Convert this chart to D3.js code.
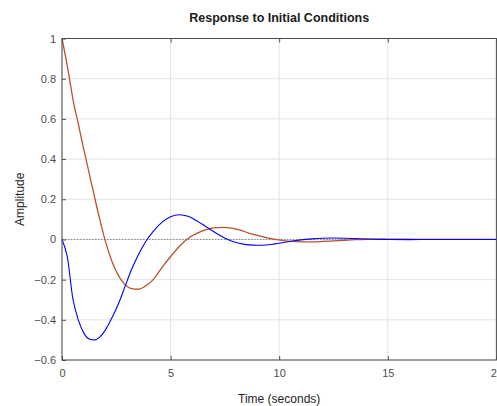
<!DOCTYPE html>
<html>
<head>
<meta charset="utf-8">
<script src="https://cdn.jsdelivr.net/npm/d3@7"></script>
<style>
  html, body { margin: 0; padding: 0; background: #fff; }
  svg { display: block; font-family: "Liberation Sans", Arial, sans-serif; }
</style>
</head>
<body>
<div id="chart"></div>
<script>
// time grid (seconds)
const times = [0, 0.25, 0.5, 0.75, 1.0, 1.25, 1.5, 1.75, 2.0, 2.3, 2.6, 2.9, 3.2, 3.5, 3.8,
  4.2, 4.6, 5.0, 5.4, 5.8, 6.2, 6.6, 7.0, 7.4, 7.8, 8.2, 8.6, 9.0, 9.4, 9.8, 10.2, 10.6,
  11.0, 11.5, 12.0, 12.5, 13.0, 13.5, 14.0, 15.0, 16.0, 17.0, 18.0, 19.0, 20.0];

const blueValues = [0, -0.09, -0.295, -0.40, -0.465, -0.495, -0.50, -0.485, -0.45, -0.39,
  -0.32, -0.235, -0.15, -0.08, -0.02, 0.04, 0.085, 0.113, 0.123, 0.115, 0.093, 0.066,
  0.038, 0.012, -0.008, -0.02, -0.027, -0.029, -0.028, -0.022, -0.015, -0.008, -0.002,
  0.003, 0.006, 0.007, 0.006, 0.004, 0.002, 0, -0.001, 0, 0, 0, 0];

const brownValues = [1.0, 0.86, 0.70, 0.575, 0.45, 0.33, 0.21, 0.095, -0.01, -0.11,
  -0.18, -0.225, -0.245, -0.248, -0.235, -0.2, -0.14, -0.085, -0.035, 0.005, 0.03, 0.048,
  0.058, 0.06, 0.056, 0.046, 0.032, 0.02, 0.009, 0.0, -0.006, -0.01, -0.012, -0.012,
  -0.01, -0.007, -0.004, -0.001, 0.001, 0.002, 0.001, 0, 0, 0, 0];

const xTicks = [0, 5, 10, 15, 20];
const yTicks = [-0.6, -0.4, -0.2, 0, 0.2, 0.4, 0.6, 0.8, 1];

const width = 497, height = 406;
const margin = { left: 62, right: 0.6, top: 38.5, bottom: 46 };

const svg = d3.select("#chart").append("svg")
  .attr("width", width).attr("height", height);

const x = d3.scaleLinear().domain([0, 20]).range([margin.left, width - margin.right]);
const y = d3.scaleLinear().domain([-0.6, 1]).range([height - margin.bottom, margin.top]);

const plot = svg.append("g");

// grid
plot.selectAll("line.vgrid").data(xTicks).join("line")
  .attr("x1", d => x(d)).attr("x2", d => x(d))
  .attr("y1", y(-0.6)).attr("y2", y(1))
  .attr("stroke", "#e3e3e3").attr("stroke-width", 1);
plot.selectAll("line.hgrid").data(yTicks).join("line")
  .attr("y1", d => y(d)).attr("y2", d => y(d))
  .attr("x1", x(0)).attr("x2", x(20))
  .attr("stroke", "#e3e3e3").attr("stroke-width", 1);

// zero line
plot.append("line")
  .attr("x1", x(0)).attr("x2", x(20))
  .attr("y1", y(0)).attr("y2", y(0))
  .attr("stroke", "#6e6e6e").attr("stroke-width", 0.8)
  .attr("stroke-dasharray", "1.5,1.5");

const line = (vals) => d3.line()
  .x((d, i) => x(times[i]))
  .y(d => y(d))
  .curve(d3.curveMonotoneX)(vals);

plot.append("path").attr("d", line(brownValues))
  .attr("fill", "none").attr("stroke", "#b9532a").attr("stroke-width", 1.3);
plot.append("path").attr("d", line(blueValues))
  .attr("fill", "none").attr("stroke", "#0000ff").attr("stroke-width", 1.1);

// axes box and ticks
const axisColor = "#4d4d4d";
svg.append("rect")
  .attr("x", x(0)).attr("y", y(1))
  .attr("width", x(20) - x(0)).attr("height", y(-0.6) - y(1))
  .attr("fill", "none").attr("stroke", axisColor).attr("stroke-width", 1);

const xAxis = d3.axisBottom(x).tickValues(xTicks).tickSizeInner(-4).tickSizeOuter(0).tickPadding(9);
const xAxisTop = d3.axisTop(x).tickValues(xTicks).tickSizeInner(-4).tickSizeOuter(0).tickFormat("");
const yAxis = d3.axisLeft(y).tickValues(yTicks).tickSizeInner(-4).tickSizeOuter(0).tickPadding(6)
  .tickFormat(d => d3.format("")(+d.toFixed(1)));

function style(g) {
  g.select(".domain").remove();
  g.selectAll(".tick line").attr("stroke", axisColor);
  g.selectAll(".tick text").attr("fill", "#4d4d4d")
    .style("font-size", "11px").style("font-family", "'Liberation Sans', Arial, sans-serif");
}

svg.append("g").attr("transform", `translate(0,${y(-0.6)})`).call(xAxis).call(style);
svg.append("g").attr("transform", `translate(0,${y(1)})`).call(xAxisTop).call(style);
svg.append("g").attr("transform", `translate(${x(0)},0)`).call(yAxis).call(style);

// labels
svg.append("text")
  .attr("x", (x(0) + x(20)) / 2).attr("y", 22)
  .attr("text-anchor", "middle")
  .style("font-size", "12.5px").style("font-weight", "bold").attr("fill", "#1a1a1a")
  .text("Response to Initial Conditions");

svg.append("text")
  .attr("x", (x(0) + x(20)) / 2).attr("y", 403)
  .attr("text-anchor", "middle")
  .style("font-size", "12px").attr("fill", "#262626")
  .text("Time (seconds)");

svg.append("text")
  .attr("transform", `translate(24,${(y(1) + y(-0.6)) / 2}) rotate(-90)`)
  .attr("text-anchor", "middle")
  .style("font-size", "12px").attr("fill", "#262626")
  .text("Amplitude");
</script>
</body>
</html>
